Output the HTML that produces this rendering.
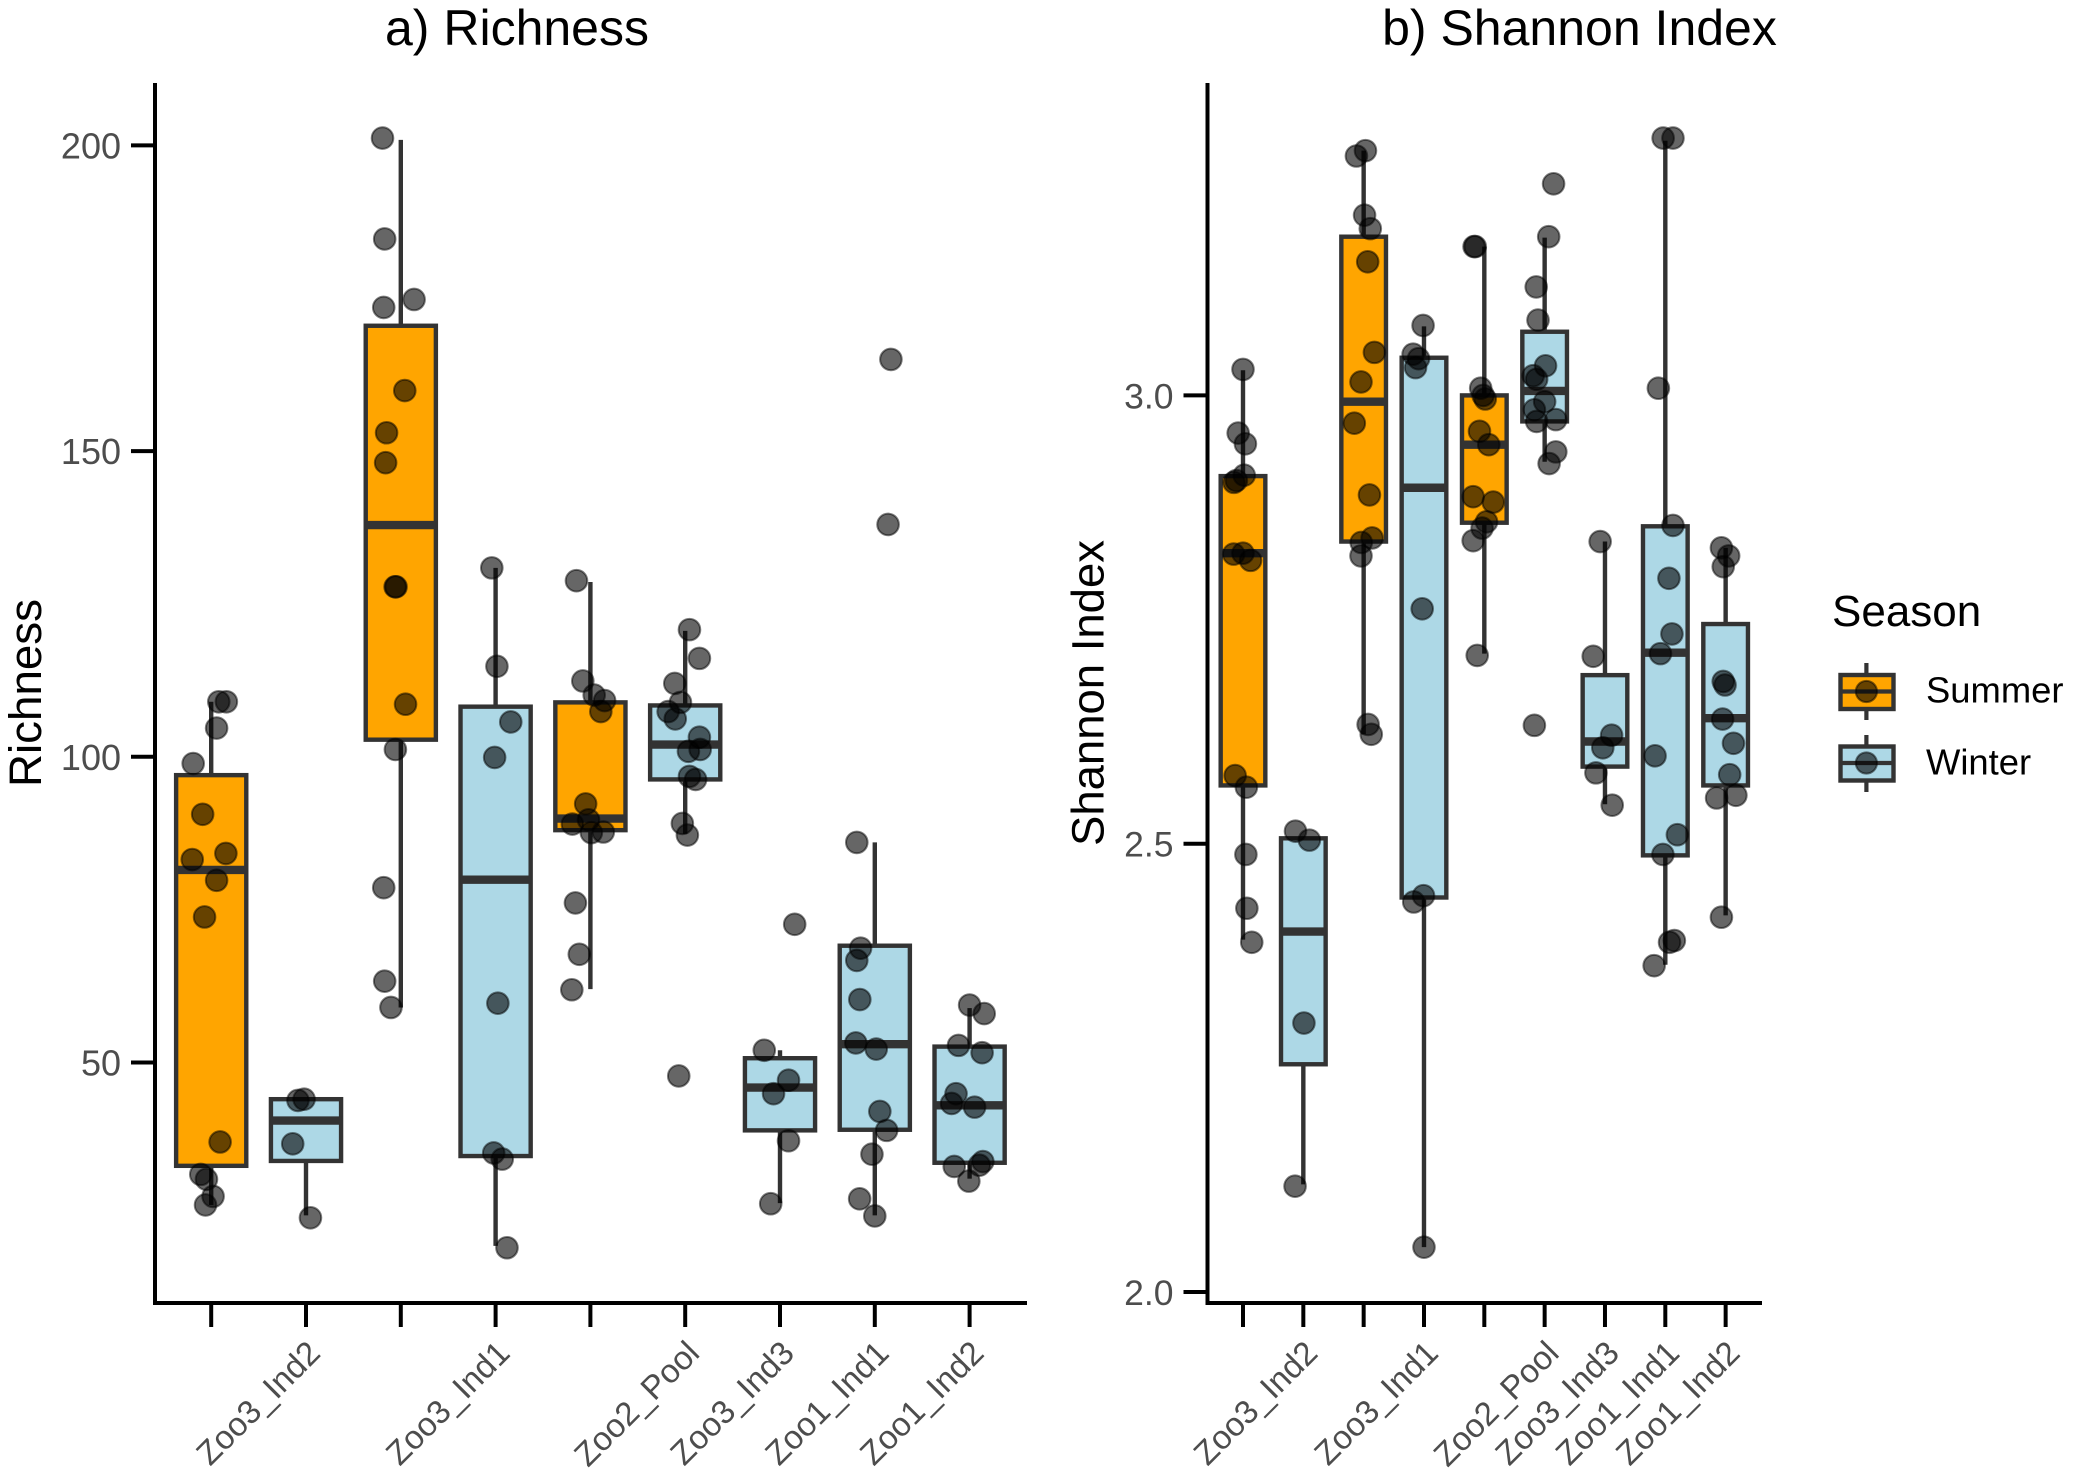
<!DOCTYPE html>
<html lang="en">
<head>
<meta charset="utf-8">
<title>Richness and Shannon Index by Season</title>
<style>
html,body{margin:0;padding:0;background:#fff;}
svg{display:block;font-family:"Liberation Sans",Arial,sans-serif;}
</style>
</head>
<body>
<svg id="chart" xmlns="http://www.w3.org/2000/svg" width="2074" height="1476" viewBox="0 0 2074 1476">
  <rect x="0" y="0" width="2074" height="1476" fill="#ffffff"/>
  <text x="517" y="45" font-size="50" text-anchor="middle" fill="#000">a) Richness</text>
  <text x="1579.5" y="45" font-size="50" text-anchor="middle" fill="#000">b) Shannon Index</text>
  <text transform="translate(41 693) rotate(-90)" font-size="45" text-anchor="middle" textLength="188" lengthAdjust="spacingAndGlyphs" fill="#000">Richness</text>
  <text transform="translate(1103.5 693) rotate(-90)" font-size="45" text-anchor="middle" textLength="306" lengthAdjust="spacingAndGlyphs" fill="#000">Shannon Index</text>
  <g id="richness-panel"></g>
  <g id="shannon-panel"></g>
  <g>
    <text x="1832" y="626" font-size="44" fill="#000">Season</text>
    <g>
      <line x1="1866.4" x2="1866.4" y1="663" y2="720" stroke="#333" stroke-width="4.2"/>
      <rect x="1840.5" y="675" width="53" height="34" fill="#FFA500" stroke="#333" stroke-width="4.4"/>
      <line x1="1840.5" x2="1893.5" y1="691.5" y2="691.5" stroke="#333" stroke-width="4.2"/>
      <circle cx="1866.4" cy="691.5" r="10.6" fill="rgba(0,0,0,.6)" stroke="rgba(0,0,0,.5)" stroke-width="2"/>
    </g>
    <text x="1926" y="702.5" font-size="36.4" fill="#000">Summer</text>
    <g>
      <line x1="1866.4" x2="1866.4" y1="735" y2="792" stroke="#333" stroke-width="4.2"/>
      <rect x="1840.5" y="746.5" width="53" height="34" fill="#ADD8E6" stroke="#333" stroke-width="4.4"/>
      <line x1="1840.5" x2="1893.5" y1="763" y2="763" stroke="#333" stroke-width="4.2"/>
      <circle cx="1866.4" cy="763" r="10.6" fill="rgba(0,0,0,.6)" stroke="rgba(0,0,0,.5)" stroke-width="2"/>
    </g>
    <text x="1926" y="774.5" font-size="36.4" fill="#000">Winter</text>
  </g>
</svg>
<script>
// Shared categories and tick labels
const categories = ["", "Zoo3_Ind2", "", "Zoo3_Ind1", "", "Zoo2_Pool", "Zoo3_Ind3", "Zoo1_Ind1", "Zoo1_Ind2"];
const seasons = ["Summer", "Winter", "Summer", "Winter", "Summer", "Winter", "Winter", "Winter", "Winter"];
const richnessTicks = [50, 100, 150, 200];
const richnessTickLabels = ["50", "100", "150", "200"];
const shannonTicks = [2.0, 2.5, 3.0];
const shannonTickLabels = ["2.0", "2.5", "3.0"];

// a) Richness: box statistics
const richnessQ1 = [33.1, 33.9, 102.8, 34.7, 88, 96.3, 38.9, 39, 33.6];
const richnessMedian = [81.5, 40.5, 137.9, 79.9, 89.9, 102, 45.9, 53, 43];
const richnessQ3 = [97, 44, 170.5, 108.2, 108.9, 108.4, 50.7, 69.1, 52.6];
const richnessLow = [26.7, 25, 59, 20, 62, 87.4, 27, 25, 31];
const richnessHigh = [109, 44, 200.9, 130.9, 128.6, 120.6, 52, 86, 58.9];

// a) Richness: observations and horizontal jitter (in category units)
const richnessPoints = [
  [109, 109, 104.7, 98.9, 90.6, 84.2, 83.2, 79.8, 73.8, 37, 31.7, 30.9, 28.1, 26.7],
  [44, 43.8, 36.7, 24.6],
  [201.2, 184.7, 174.8, 173.5, 159.9, 153, 148.1, 127.8, 127.8, 108.6, 101.2, 78.6, 63.3, 59],
  [130.9, 114.8, 105.7, 99.9, 59.7, 35.2, 34.2, 19.7],
  [128.8, 112.4, 110.1, 109.2, 107.4, 92.3, 89, 89.7, 87.6, 87.7, 76.1, 67.7, 61.9],
  [120.8, 116.1, 112, 108.9, 107.4, 106.2, 103.2, 100.9, 101.2, 96.8, 96.3, 89.1, 87.2, 47.8],
  [72.6, 52, 47.1, 44.9, 37.2, 26.9],
  [165, 138, 86, 68.7, 66.7, 60.3, 53.2, 52.2, 42, 38.9, 35, 27.7, 24.9],
  [59.4, 58, 52.8, 51.6, 44.9, 43.3, 42.7, 33.8, 33.2, 33, 30.6]
];
const richnessJitter = [
  [0.08, 0.16, 0.057, -0.19, -0.09, 0.155, -0.2, 0.057, -0.07, 0.094, -0.11, -0.05, 0.02, -0.06],
  [-0.02, -0.085, -0.14, 0.047],
  [-0.193, -0.17, 0.14, -0.18, 0.042, -0.15, -0.16, -0.06, -0.05, 0.05, -0.057, -0.18, -0.17, -0.104],
  [-0.04, 0.014, 0.16, -0.01, 0.024, -0.02, 0.07, 0.12],
  [-0.147, -0.08, 0.04, 0.15, 0.11, -0.05, -0.19, -0.02, 0.01, 0.136, -0.158, -0.117, -0.196],
  [0.045, 0.15, -0.11, -0.05, -0.18, -0.105, 0.15, 0.034, 0.158, 0.045, 0.11, -0.03, 0.023, -0.068],
  [0.155, -0.166, 0.09, -0.068, 0.09, -0.098],
  [0.17, 0.14, -0.19, -0.15, -0.19, -0.158, -0.2, 0.015, 0.053, 0.125, -0.03, -0.16, 0],
  [0, 0.154, -0.117, 0.132, -0.143, -0.19, 0.053, 0.14, 0.102, -0.162, -0.008]
];

// b) Shannon Index: box statistics
const shannonQ1 = [2.565, 2.254, 2.837, 2.44, 2.858, 2.971, 2.586, 2.487, 2.565];
const shannonMedian = [2.824, 2.402, 2.993, 2.897, 2.945, 3.005, 2.614, 2.713, 2.64];
const shannonQ3 = [2.91, 2.506, 3.177, 3.042, 3, 3.071, 2.688, 2.854, 2.745];
const shannonLow = [2.393, 2.12, 2.622, 2.05, 2.712, 2.926, 2.544, 2.365, 2.42];
const shannonHigh = [3.028, 2.506, 3.273, 3.077, 3.166, 3.176, 2.837, 3.284, 2.83];

// b) Shannon Index: observations and horizontal jitter (in category units)
const shannonPoints = [
  [3.029, 2.958, 2.946, 2.911, 2.905, 2.903, 2.824, 2.823, 2.816, 2.576, 2.563, 2.488, 2.428, 2.39],
  [2.514, 2.504, 2.3, 2.118],
  [3.273, 3.267, 3.201, 3.186, 3.149, 3.048, 3.015, 2.969, 2.889, 2.841, 2.836, 2.821, 2.633, 2.622],
  [3.078, 3.046, 3.041, 3.031, 2.762, 2.442, 2.435, 2.05],
  [3.166, 3.166, 3.008, 3, 2.996, 2.96, 2.945, 2.887, 2.881, 2.859, 2.852, 2.838, 2.71],
  [3.236, 3.177, 3.121, 3.084, 3.033, 3.022, 3.018, 2.993, 2.984, 2.971, 2.973, 2.937, 2.924, 2.632],
  [2.837, 2.709, 2.621, 2.607, 2.579, 2.543],
  [3.287, 3.287, 3.008, 2.855, 2.796, 2.734, 2.712, 2.598, 2.51, 2.488, 2.392, 2.39, 2.364],
  [2.83, 2.821, 2.809, 2.681, 2.677, 2.639, 2.612, 2.577, 2.551, 2.554, 2.418]
];
const shannonJitter = [
  [0, -0.08, 0.04, 0.02, -0.11, -0.15, 0, -0.155, 0.126, -0.13, 0.056, 0.048, 0.064, 0.145],
  [-0.13, 0.1, 0.01, -0.137],
  [0.03, -0.12, 0.015, 0.11, 0.067, 0.178, -0.044, -0.155, 0.096, 0.14, -0.04, -0.044, 0.074, 0.126],
  [-0.015, -0.18, -0.09, -0.14, -0.03, -0.008, -0.17, 0],
  [-0.15, -0.17, -0.06, -0.02, 0.015, -0.08, 0.074, -0.185, 0.148, 0.037, -0.037, -0.185, -0.118],
  [0.148, 0.067, -0.14, -0.11, 0.015, -0.19, -0.133, 0, -0.17, -0.133, 0.185, 0.185, 0.074, -0.17],
  [-0.08, -0.195, 0.11, -0.036, -0.15, 0.12],
  [-0.036, 0.127, -0.115, 0.127, 0.06, 0.11, -0.08, -0.17, 0.2, -0.04, 0.15, 0.07, -0.185],
  [-0.07, 0.05, -0.04, -0.04, -0.01, -0.05, 0.13, 0.067, -0.15, 0.17, -0.07]
];

const SVG_NS = "http://www.w3.org/2000/svg";
const seasonFill = { Summer: "#FFA500", Winter: "#ADD8E6" };

function mk(parent, tag, attrs) {
  const node = document.createElementNS(SVG_NS, tag);
  for (const key in attrs) node.setAttribute(key, attrs[key]);
  parent.appendChild(node);
  return node;
}

function drawPanel(root, view, ticks, tickLabels, q1, med, q3, low, high, points, jitter) {
  const xScale = function (c) { return view.x0 + c * view.step; };
  const yScale = function (v) { return view.yRef - (v - view.vRef) * view.pxPerUnit; };
  const halfBox = view.step * 0.37;

  categories.forEach(function (name, i) {
    const cx = xScale(i);
    const group = mk(root, "g", {});
    
    

    const upper = mk(group, "line", { x1: cx, x2: cx, y1: yScale(q3[i]), y2: yScale(high[i]), stroke: "#333", "stroke-width": 4.4 });
    
    

    const lower = mk(group, "line", { x1: cx, x2: cx, y1: yScale(q1[i]), y2: yScale(low[i]), stroke: "#333", "stroke-width": 4.4 });
    
    

    const box = mk(group, "rect", {
      x: cx - halfBox, y: yScale(q3[i]), width: halfBox * 2, height: yScale(q1[i]) - yScale(q3[i]),
      fill: seasonFill[seasons[i]], stroke: "#333", "stroke-width": 4.4
    });
    
    

    const median = mk(group, "line", { x1: cx - halfBox, x2: cx + halfBox, y1: yScale(med[i]), y2: yScale(med[i]), stroke: "#333", "stroke-width": 8.4 });
    
    
  });

  categories.forEach(function (name, i) {
    points[i].forEach(function (v, k) {
      const dot = mk(root, "circle", {
        cx: xScale(i + jitter[i][k]), cy: yScale(v), r: 10.8,
        fill: "rgba(0,0,0,.6)", stroke: "rgba(0,0,0,.5)", "stroke-width": 2
      });
      
      
    });
  });

  const yAxis = mk(root, "line", { x1: view.left, x2: view.left, y1: view.top, y2: view.bottom + 2, stroke: "#000", "stroke-width": 4 });
  
  

  const xAxis = mk(root, "line", { x1: view.left, x2: view.right, y1: view.bottom, y2: view.bottom, stroke: "#000", "stroke-width": 4 });
  
  

  ticks.forEach(function (v, i) {
    const y = yScale(v);
    const tick = mk(root, "line", { x1: view.left - 24, x2: view.left, y1: y, y2: y, stroke: "#000", "stroke-width": 4 });
    
    
    const label = mk(root, "text", { x: view.left - 34, y: y + 13, "text-anchor": "end", "font-size": view.yFont, fill: "#4D4D4D" });
    
    
    label.textContent = tickLabels[i];
  });

  categories.forEach(function (name, i) {
    const x = xScale(i);
    const tick = mk(root, "line", { x1: x, x2: x, y1: view.bottom, y2: view.bottom + 24, stroke: "#000", "stroke-width": 4 });
    
    
    if (name) {
      const label = mk(root, "text", {
        x: x + 16, y: 1355, "text-anchor": "end", "font-size": 33.1, fill: "#4D4D4D",
        transform: "rotate(-45 " + (x + 16) + " 1355)"
      });
      
      
      label.textContent = name;
    }
  });
}

drawPanel(
  document.getElementById("richness-panel"),
  { x0: 211.2, step: 94.8, yRef: 145.4, vRef: 200, pxPerUnit: 6.114, left: 155, right: 1027, top: 83, bottom: 1303, yFont: 36 },
  richnessTicks, richnessTickLabels, richnessQ1, richnessMedian, richnessQ3, richnessLow, richnessHigh, richnessPoints, richnessJitter
);
drawPanel(
  document.getElementById("shannon-panel"),
  { x0: 1243, step: 60.33, yRef: 1292, vRef: 2, pxPerUnit: 896.6, left: 1207.5, right: 1762, top: 83, bottom: 1303, yFont: 35.5 },
  shannonTicks, shannonTickLabels, shannonQ1, shannonMedian, shannonQ3, shannonLow, shannonHigh, shannonPoints, shannonJitter
);
</script>
</body>
</html>
